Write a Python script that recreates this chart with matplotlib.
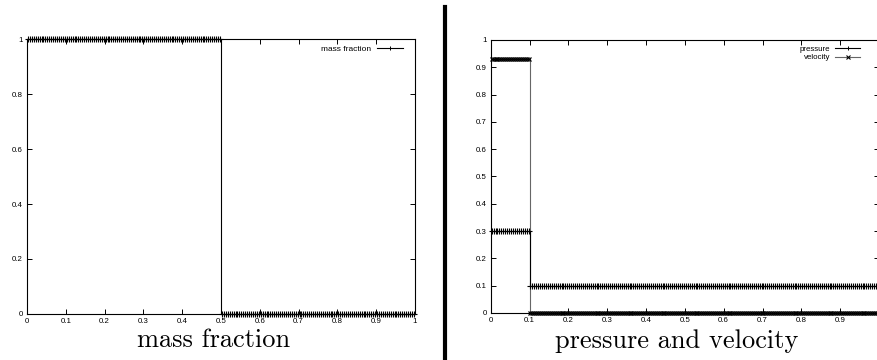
import matplotlib
matplotlib.use('Agg')
import matplotlib.pyplot as plt
from matplotlib.lines import Line2D
import numpy as np

# Riemann problem, 200 cells on [0, 1], piecewise constant states
n_cells = 200
x = (np.arange(n_cells) + 0.5) / n_cells

mass_split = 0.5
mass_left, mass_right = 1.0, 0.0

pv_split = 0.1
pressure_left, pressure_right = 0.3, 0.1
velocity_left, velocity_right = 0.93, 0.0

mass = np.where(x < mass_split, mass_left, mass_right)
pressure = np.where(x < pv_split, pressure_left, pressure_right)
velocity = np.where(x < pv_split, velocity_left, velocity_right)

left_xticks = [0, 0.1, 0.2, 0.3, 0.4, 0.5, 0.6, 0.7, 0.8, 0.9, 1]
left_yticks = [0, 0.2, 0.4, 0.6, 0.8, 1]
right_xticks = [0, 0.1, 0.2, 0.3, 0.4, 0.5, 0.6, 0.7, 0.8, 0.9, 1]
right_xlabels = ['0', '0.1', '0.2', '0.3', '0.4', '0.5', '0.6', '0.7', '0.8', '0.9', '']
right_yticks = [0, 0.1, 0.2, 0.3, 0.4, 0.5, 0.6, 0.7, 0.8, 0.9, 1]

tick_font = 'Liberation Sans'


def style_axes(ax, xticks, yticks, xlabels=None):
    ax.set_xlim(0, 1)
    ax.set_ylim(0, 1)
    ax.set_xticks(xticks)
    ax.set_yticks(yticks)
    ax.set_xticklabels(xlabels if xlabels else ['%g' % t for t in xticks])
    ax.set_yticklabels(['%g' % t for t in yticks])
    ax.tick_params(direction='in', top=True, right=True, length=3.5, width=0.7,
                   labelsize=5.7, pad=3)
    for lab in ax.get_xticklabels() + ax.get_yticklabels():
        lab.set_family(tick_font)
    for s in ax.spines.values():
        s.set_linewidth(0.8)


fig = plt.figure(figsize=(8.77, 3.6), dpi=100)

# left panel: mass fraction
ax1 = fig.add_axes([0.0308, 0.128, 0.4423, 0.763])
x_mass = np.concatenate([x[x < mass_split], [mass_split, mass_split], x[x >= mass_split]])
y_mass = np.concatenate([mass[x < mass_split], [mass_left, mass_right], mass[x >= mass_split]])
ax1.plot(x_mass, y_mass, color='black', lw=0.8, clip_on=False)
ax1.plot(x, mass, ls='none', marker='+', ms=3.8, mew=0.8, color='black', clip_on=False)
ax1.plot([], [], color='black', lw=0.8, marker='+', ms=3.5, mew=0.7, label='mass fraction')
style_axes(ax1, left_xticks, left_yticks)
ax1.legend(loc='upper right', bbox_to_anchor=(0.985, 1.0), frameon=False,
           markerfirst=False, handlelength=3.2, numpoints=1,
           prop={'family': tick_font, 'size': 6}, borderaxespad=0.3, handletextpad=0.6)

# right panel: pressure and velocity
ax2 = fig.add_axes([0.5595, 0.1306, 0.4428, 0.7583])
x_pv = np.concatenate([x[x < pv_split], [pv_split, pv_split], x[x >= pv_split]])
p_pv = np.concatenate([pressure[x < pv_split], [pressure_left, pressure_right], pressure[x >= pv_split]])
v_pv = np.concatenate([velocity[x < pv_split], [velocity_left, velocity_right], velocity[x >= pv_split]])
ax2.plot(x_pv, v_pv, color='#666666', lw=0.8, clip_on=False)
ax2.plot(x, velocity, ls='none', marker='x', ms=2.8, mew=0.9, color='black', clip_on=False)
ax2.plot(x_pv, p_pv, color='black', lw=0.8, clip_on=False)
ax2.plot(x, pressure, ls='none', marker='+', ms=3.8, mew=0.8, color='black', clip_on=False)
ax2.plot([], [], color='black', lw=0.8, marker='+', ms=3.5, mew=0.7, label='pressure')
ax2.plot([], [], color='#666666', lw=0.8, marker='x', ms=2.6, mew=0.8, mfc='black',
         mec='black', label='velocity')
style_axes(ax2, right_xticks, right_yticks, right_xlabels)
ax2.legend(loc='upper right', bbox_to_anchor=(0.966, 1.0), frameon=False,
           markerfirst=False, handlelength=3.2, numpoints=1,
           prop={'family': tick_font, 'size': 5.7}, borderaxespad=0.3,
           handletextpad=0.6, labelspacing=0.1)

# captions and separator
fig.text(0.243, 0.055, 'mass fraction', ha='center', va='center', fontsize=19,
         family='cmr10')
fig.text(0.772, 0.052, 'pressure and velocity', ha='center', va='center', fontsize=19,
         family='cmr10')
fig.add_artist(Line2D([0.5075, 0.5075], [0, 0.98], transform=fig.transFigure,
                      color='black', lw=3))

fig.savefig('out.png', dpi=100)
